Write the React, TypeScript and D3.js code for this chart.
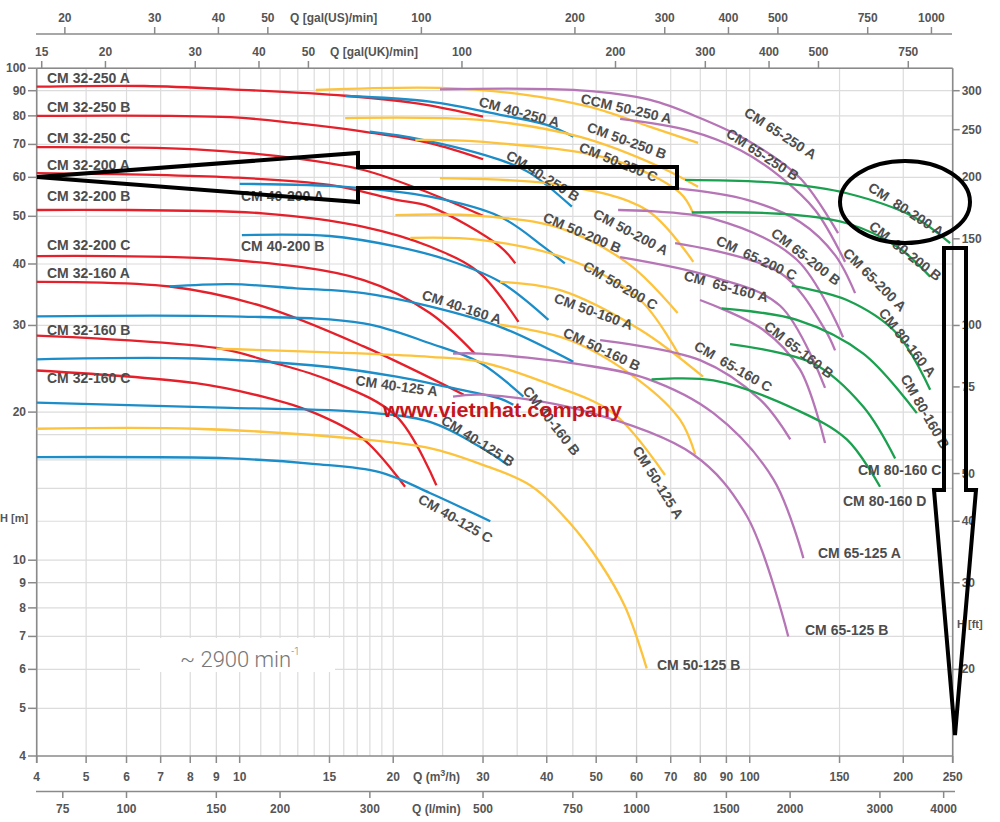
import React from "react";
import * as d3 from "d3";

type Pt = [number, number];

// ---------- data (Q in m3/h, H in m) ----------
const CM32_250A: Pt[] = [[4,91.7],[6.5,92.0],[9.6,90.6],[16.1,87.9],[22.6,84.6],[30.0,79.7]];
const CM32_250B: Pt[] = [[4,80.0],[9.6,79.5],[12.9,77.3],[18.0,74.0],[23.6,70.4],[30.0,65.3]];
const CM32_250C: Pt[] = [[4,69.1],[8.2,68.4],[12.9,65.6],[17.5,62.1],[23.6,55.7],[30.0,50.1]];
const CM32_200A: Pt[] = [[4,61.2],[9.6,60.0],[15.0,57.9],[20.3,54.0],[23.6,52.3],[32.4,43.4],[34.7,40.1]];
const CM32_200B: Pt[] = [[4,51.5],[11.1,50.7],[17.5,47.6],[23.6,43.4],[29.6,38.3],[35.2,30.5]];
const CM32_200C: Pt[] = [[4,41.5],[9.6,40.8],[17.5,37.1],[23.6,31.8],[28.9,26.3]];
const CM32_160A: Pt[] = [[4,36.8],[7.3,36.0],[11.1,32.8],[17.5,27.2],[27.5,21.7]];
const CM32_160B: Pt[] = [[4,28.6],[9.0,27.0],[11.5,25.3],[15.0,23.2],[20.3,19.6],[24.3,14.2]];
const CM32_160C: Pt[] = [[4,24.3],[8.2,22.9],[11.1,21.5],[13.9,20.0],[17.5,17.6],[21.1,14.1]];

const CM40_250A: Pt[] = [[16.1,87.8],[23.6,85.5],[32.4,80.4],[40.0,76.7],[45.1,72.6]];
const CM40_250B: Pt[] = [[18.0,74.3],[22.6,71.7],[32.4,65.1],[37.1,61.2],[44.8,52.3]];
const CM40_200A: Pt[] = [[10.0,58.2],[16.1,57.4],[23.6,54.8],[32.4,49.9],[39.4,43.4],[43.4,40.1]];
const CM40_200B: Pt[] = [[10.1,45.8],[15.0,45.6],[20.3,43.4],[25.5,40.8],[32.4,36.8],[40.3,30.8]];
const CM40_160A: Pt[] = [[7.3,36.0],[9.6,36.4],[12.9,35.7],[17.5,34.9],[23.6,32.8],[32.4,29.8],[45.1,25.3]];
const CM40_160B: Pt[] = [[4,31.3],[9.6,31.3],[17.5,30.3],[23.6,27.6],[29.6,25.2],[36.0,21.5]];
const CM40_125A: Pt[] = [[4,25.6],[8.2,25.7],[15.0,24.7],[20.3,23.6],[25.5,22.5],[32.4,21.3],[34.4,20.7]];
const CM40_125B: Pt[] = [[4,20.9],[9.6,20.4],[17.5,20.0],[23.6,19.1],[29.6,17.0],[33.6,15.6]];
const CM40_125C: Pt[] = [[4,16.2],[9.6,16.1],[13.9,15.7],[18.8,15.1],[23.6,13.7],[31.0,12.0]];

const CM50_250A: Pt[] = [[14.1,90.3],[24.7,91.2],[35.5,88.6],[48.6,83.4],[63.8,76.0],[79.2,70.5]];
const CM50_250B: Pt[] = [[16.1,79.2],[29.6,78.5],[46.5,72.5],[66.7,63.0],[79.2,57.4]];
const CM50_250C: Pt[] = [[22.1,71.5],[29.6,70.9],[54.0,65.1],[73.0,55.8],[77.4,50.8]];
const CM50_200A: Pt[] = [[24.7,59.8],[42.5,57.9],[62.8,51.5],[77.5,40.4]];
const CM50_200B: Pt[] = [[20.2,50.3],[29.6,50.1],[42.5,47.3],[58.3,39.8],[72.2,31.8]];
const CM50_200C: Pt[] = [[21.6,45.2],[29.6,44.8],[44.4,40.8],[61.0,33.8],[73.0,25.9]];
const CM50_160A: Pt[] = [[32.4,36.8],[42.5,35.4],[61.0,29.4],[81.0,23.6]];
const CM50_160B: Pt[] = [[32.4,30.1],[44.4,28.0],[61.0,23.1],[73.0,19.3],[78.2,16.4]];
const CM50_125A: Pt[] = [[9.0,26.9],[23.6,25.9],[29.6,25.3],[40.0,22.9],[54.0,19.9],[68.2,14.9]];
const CM50_125B: Pt[] = [[4,18.5],[8.2,18.5],[17.5,17.6],[23.6,16.9],[29.6,15.7],[37.1,14.2],[44.4,11.9],[50.9,9.87],[57.0,8.03],[62.8,6.03]];

const CM65_250A: Pt[] = [[24.7,90.6],[46.5,90.1],[63.8,86.2],[79.9,79.2],[100,70.9],[125.5,59.8],[149,46.2]];
const CM65_250B: Pt[] = [[55.7,78.9],[76.4,74.6],[95.7,68.2],[114.7,60.2],[134.3,51.5],[153.8,40.4]];
const CM65_200A: Pt[] = [[70.8,57.1],[98.8,54.0],[125.5,48.7],[147,41.7],[160.9,34.9]];
const CM65_200B: Pt[] = [[55.2,51.5],[84.9,49.4],[123.7,40.8],[152.4,28.4]];
const CM65_200C: Pt[] = [[71.4,44.1],[114.7,38.4],[140.5,29.4],[147,26.7]];
const CM65_160A: Pt[] = [[55.7,41.3],[84.9,37.6],[114.7,32.9],[140.5,22.4]];
const CM65_160B: Pt[] = [[79.9,33.8],[106.2,29.4],[125.5,24.4],[140.5,17.3]];
const CM65_160C: Pt[] = [[50.9,28.0],[79.9,25.5],[104.8,21.2],[120.1,17.6]];
const CM65_125A: Pt[] = [[26.2,26.3],[29.6,26.3],[46.5,25.0],[62.8,23.4],[84.9,19.9],[111.3,14.6],[127.4,10.1]];
const CM65_125B: Pt[] = [[26.2,21.5],[29.6,21.7],[46.5,20.2],[77.5,16.4],[98.7,12.3],[119.0,7.0]];

const CM80_200A: Pt[] = [[74.7,59.3],[114.7,58.4],[155,55.7],[209.4,49.9],[247.1,44.1]];
const CM80_200B: Pt[] = [[77.0,50.9],[114.7,50.6],[155,48.4],[194.3,43.4],[225.8,37.7]];
const CM80_160A: Pt[] = [[120.9,36.1],[155,33.8],[194.3,28.9],[225.8,22.2]];
const CM80_160B: Pt[] = [[88.1,32.5],[123.7,30.8],[167.0,26.3],[212.6,19.9]];
const CM80_160C: Pt[] = [[91.5,27.5],[133.3,25.1],[167.0,20.5],[192.8,16.1]];
const CM80_160D: Pt[] = [[64.2,23.3],[84.9,23.2],[123.7,20.2],[155,17.6],[180.1,14.1]];

const red = [CM32_250A, CM32_250B, CM32_250C, CM32_200A, CM32_200B, CM32_200C, CM32_160A, CM32_160B, CM32_160C];
const blue = [CM40_250A, CM40_250B, CM40_200A, CM40_200B, CM40_160A, CM40_160B, CM40_125A, CM40_125B, CM40_125C];
const yellow = [CM50_250A, CM50_250B, CM50_250C, CM50_200A, CM50_200B, CM50_200C, CM50_160A, CM50_160B, CM50_125A, CM50_125B];
const purple = [CM65_250A, CM65_250B, CM65_200A, CM65_200B, CM65_200C, CM65_160A, CM65_160B, CM65_160C, CM65_125A, CM65_125B];
const green = [CM80_200A, CM80_200B, CM80_160A, CM80_160B, CM80_160C, CM80_160D];

// tick values
const qTicks = [4,5,6,7,8,9,10,15,20,30,40,50,60,70,80,90,100,150,200,250];
const qGrid = [4,5,6,7,8,9,10,11,12,13,14,15,16,17,18,19,20,25,30,35,40,45,50,60,70,80,90,100,150,200,250];
const hTicks = [4,5,6,7,8,9,10,20,30,40,50,60,70,80,90,100];
const hGrid = [5,6,7,8,9,10,12,14,16,18,20,30,40,50,60,70,80,90,100];
const usTicks = [20,30,40,50,100,200,300,400,500,750,1000];
const ukTicks = [15,20,30,40,50,100,200,300,400,500,750];
const lminTicks = [75,100,150,200,300,500,750,1000,1500,2000,3000,4000];
const ftTicks = [20,30,40,50,75,100,150,200,250,300];

// curve labels: text, x, y (pixel anchor, left baseline), angle
const labels: [string, number, number, number][] = [
  ["CM 32-250 A", 47, 83, 0], ["CM 32-250 B", 47, 112, 0], ["CM 32-250 C", 47, 143, 0],
  ["CM 32-200 A", 47, 170, 0], ["CM 32-200 B", 47, 201, 0], ["CM 32-200 C", 47, 250, 0],
  ["CM 32-160 A", 47, 278, 0], ["CM 32-160 B", 47, 335, 0], ["CM 32-160 C", 47, 383, 0],
  ["CM 40-200 A", 241, 201, 0], ["CM 40-200 B", 241, 251, 0],
  ["CM 40-250 A", 478, 106, 15], ["CM 40-250 B", 505, 158, 32],
  ["CM 40-160 A", 421, 299, 18], ["CM 40-160 B", 522, 391, 52],
  ["CM 40-125 A", 355, 385, 8], ["CM 40-125 B", 440, 423, 32], ["CM 40-125 C", 417, 502, 30],
  ["CCM 50-250 A", 580, 103, 13], ["CM 50-250 B", 586, 131, 20], ["CM 50-250 C", 578, 151, 22],
  ["CM 50-200 A", 592, 217, 28], ["CM 50-200 B", 542, 221, 23], ["CM 50-200 C", 582, 269, 30],
  ["CM 50-160 A", 553, 302, 20], ["CM 50-160 B", 562, 336, 25], ["CM 50-125 A", 632, 450, 58],
  ["CM 50-125 B", 657, 670, 0],
  ["CM 65-250 A", 743, 115, 33], ["CM 65-250 B", 725, 136, 33],
  ["CM 65-200 A", 842, 254, 45], ["CM 65-200 B", 770, 235, 38], ["CM  65-200 C", 715, 244, 25],
  ["CM  65-160 A", 683, 280, 15], ["CM 65-160 B", 763, 328, 38], ["CM  65-160 C", 693, 349, 30],
  ["CM 65-125 A", 818, 558, 0], ["CM 65-125 B", 805, 635, 0],
  ["CM  80-200 A", 867, 190, 33], ["CM  80-200 B", 868, 228, 38],
  ["CM 80-160 A", 878, 313, 52], ["CM 80-160 B", 900, 378, 60],
  ["CM 80-160 C", 858, 475, 0], ["CM 80-160 D", 843, 506, 0],
];

const COLORS = { red: "#e5202a", blue: "#1b8dc8", yellow: "#fdc33c", purple: "#b675b6", green: "#1aa04f" };
const FONT = "'Liberation Sans', Arial, Helvetica, sans-serif";
const TXT = "#555";

export default function App() {
  const W = 1000, H = 822;
  const x = d3.scaleLog().domain([4, 250]).range([36.7, 952.7]);
  const y = d3.scaleLog().domain([4, 100]).range([756, 68.2]);
  const line = d3.line<Pt>().x(d => x(d[0])).y(d => y(d[1])).curve(d3.curveCatmullRom.alpha(0.5));
  const L = x(4), R = x(250), T = y(100), B = y(4);
  const axisCol = "#8a8a8a";

  const groups: [Pt[][], string][] = [[red, COLORS.red], [blue, COLORS.blue], [yellow, COLORS.yellow], [purple, COLORS.purple], [green, COLORS.green]];

  // annotation shapes in pixel space
  const leftArrow = [[37,177],[358,153],[358,167],[677,167],[677,188],[358,188],[358,202]];
  const downArrow = [[944,248],[966,248],[966,490],[976,490],[955,735],[934,490],[944,490]];

  return (
    <svg width={W} height={H} style={{ display: "block", position: "absolute", left: 0, top: 0, background: "#fff" }} fontFamily={FONT}>
      <rect x={0} y={0} width={W} height={H} fill="#fff" />
      {/* grid */}
      <g stroke="#dcdcdc" strokeWidth={1.2}>
        {qGrid.map(v => <line key={"gx" + v} x1={x(v)} x2={x(v)} y1={T} y2={B} />)}
        {hGrid.map(v => <line key={"gy" + v} x1={L} x2={R} y1={y(v)} y2={y(v)} />)}
      </g>
      {/* white box behind speed label */}
      <rect x={140} y={638} width={195} height={34} fill="#fff" />
      {/* frame */}
      <g stroke={axisCol} strokeWidth={1.6} fill="none">
        <line x1={L} x2={L} y1={T} y2={B + 7} />
        <line x1={L} x2={R} y1={B} y2={B} />
        <line x1={R} x2={R} y1={T} y2={B + 7} />
        <line x1={L} x2={R} y1={T} y2={T} />
      </g>
      {/* bottom m3/h ticks */}
      <g>
        {qTicks.map(v => (
          <g key={"qt" + v}>
            <line x1={x(v)} x2={x(v)} y1={B} y2={B + 7} stroke={axisCol} strokeWidth={1.5} />
            <text x={x(v)} y={781} textAnchor="middle" fontSize={12} fontWeight="bold" fill={TXT}>{v}</text>
          </g>
        ))}
        <text x={413} y={781} fontSize={12} fontWeight="bold" fill={TXT}>Q (m<tspan dy={-5} fontSize={9}>3</tspan><tspan dy={5}>/h)</tspan></text>
      </g>
      {/* l/min axis */}
      <g>
        <line x1={36} x2={955} y1={791.5} y2={791.5} stroke={axisCol} strokeWidth={1.6} />
        {lminTicks.map(v => (
          <g key={"lt" + v}>
            <line x1={x(v / 16.667)} x2={x(v / 16.667)} y1={791.5} y2={798} stroke={axisCol} strokeWidth={1.5} />
            <text x={x(v / 16.667)} y={813} textAnchor="middle" fontSize={12} fontWeight="bold" fill={TXT}>{v}</text>
          </g>
        ))}
        <text x={412} y={813} fontSize={12} fontWeight="bold" fill={TXT}>Q (l/min)</text>
      </g>
      {/* top US axis */}
      <g>
        <line x1={36} x2={952} y1={34} y2={34} stroke={axisCol} strokeWidth={1.6} />
        {usTicks.map(v => (
          <g key={"us" + v}>
            <line x1={x(v / 4.403)} x2={x(v / 4.403)} y1={27} y2={34} stroke={axisCol} strokeWidth={1.5} />
            <text x={x(v / 4.403)} y={22} textAnchor="middle" fontSize={12} fontWeight="bold" fill={TXT}>{v}</text>
          </g>
        ))}
        <text x={290} y={22} fontSize={12} fontWeight="bold" fill={TXT}>Q [gal(US)/min]</text>
      </g>
      {/* top UK axis */}
      <g>
        {ukTicks.map(v => (
          <g key={"uk" + v}>
            <line x1={x(v / 3.666)} x2={x(v / 3.666)} y1={61} y2={T} stroke={axisCol} strokeWidth={1.5} />
            <text x={x(v / 3.666)} y={56} textAnchor="middle" fontSize={12} fontWeight="bold" fill={TXT}>{v}</text>
          </g>
        ))}
        <text x={330} y={56} fontSize={12} fontWeight="bold" fill={TXT}>Q [gal(UK)/min]</text>
      </g>
      {/* left H axis */}
      <g>
        {hTicks.map(v => (
          <g key={"ht" + v}>
            <line x1={28} x2={L} y1={y(v)} y2={y(v)} stroke={axisCol} strokeWidth={1.5} />
            <text x={26} y={y(v) + 4} textAnchor="end" fontSize={12} fontWeight="bold" fill={TXT}>{v}</text>
          </g>
        ))}
        <text x={0} y={522} fontSize={11} fontWeight="bold" fill={TXT}>H [m]</text>
      </g>
      {/* right ft axis */}
      <g>
        {ftTicks.map(v => (
          <g key={"ft" + v}>
            <line x1={R} x2={R + 7} y1={y(v * 0.3)} y2={y(v * 0.3)} stroke={axisCol} strokeWidth={1.5} />
            <text x={R + 9} y={y(v * 0.3) + 4} fontSize={12} fontWeight="bold" fill={TXT}>{v}</text>
          </g>
        ))}
        <text x={957} y={628} fontSize={11} fontWeight="bold" fill={TXT}>H [ft]</text>
      </g>
      {/* curves */}
      <g fill="none" strokeWidth={2.3} strokeLinecap="butt">
        {groups.map(([arr, col], gi) => arr.map((c, i) => <path key={gi + "-" + i} d={line(c) || ""} stroke={col} />))}
      </g>
      {/* curve labels */}
      <g fontSize={14} fontWeight="bold" fill="#4d4d4d">
        {labels.map(([t, lx, ly, a]) => (
          <text key={t} x={lx} y={ly} transform={a ? `rotate(${a} ${lx} ${ly})` : undefined} style={{ whiteSpace: "pre" }}>{t}</text>
        ))}
      </g>
      {/* speed label */}
      <text x={180} y={667} fontSize={22} fontFamily="Roboto, 'Liberation Sans', sans-serif" fontWeight={300} fill="#777">~ 2900 min<tspan dy={-12} fontSize={10}>-1</tspan></text>
      {/* watermark */}
      <text x={383} y={417} fontSize={20} fontWeight="bold" fill="#c4161c" textLength={239} lengthAdjust="spacingAndGlyphs">www.vietnhat.company</text>
      {/* black annotations */}
      <g fill="none" stroke="#000" strokeWidth={4} strokeLinejoin="miter">
        <polygon points={leftArrow.map(p => p.join(",")).join(" ")} />
        <ellipse cx={905} cy={202} rx={65} ry={41} />
        <polygon points={downArrow.map(p => p.join(",")).join(" ")} />
      </g>
    </svg>
  );
}
